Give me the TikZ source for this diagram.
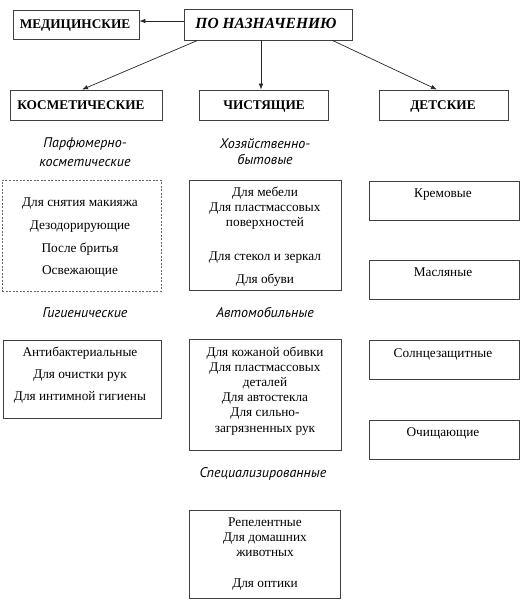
\documentclass[tikz,border=0pt]{standalone}
\usepackage{fontspec}
\setmainfont{Liberation Serif}
\newfontfamily\labfont{PT Sans}
\usetikzlibrary{arrows.meta}
\begin{document}
\begin{tikzpicture}[x=1pt,y=-1pt,
  box/.style={draw=black!75, line width=0.8pt, inner sep=0pt},
  dbox/.style={box, draw=black!60, dash pattern=on 2pt off 1.5pt},
  txt/.style={inner sep=0pt, yshift=-2pt, font=\fontsize{13.3}{15}\selectfont, text height=1.5ex, text depth=0.3ex},
  hdr/.style={inner sep=0pt, yshift=-2pt, font=\fontsize{13.3}{15}\selectfont\bfseries, text height=1.6ex, text depth=0.2ex},
  lab/.style={inner sep=0pt, yshift=-2pt, font=\fontsize{14}{16}\labfont\itshape, text height=1.5ex, text depth=0.3ex},
  arr/.style={draw=black!85, line width=0.7pt, -{Latex[length=6pt,width=4.5pt]}}]
\useasboundingbox[fill=white] (0,0) rectangle (520,600);

% boxes
\node[box, minimum width=126pt, minimum height=29pt] (med) at (76,24.5) {};
\node[box, minimum width=168pt, minimum height=31pt] (top) at (268,24.5) {};
\node[box, minimum width=152pt, minimum height=30pt] (kos) at (86,105) {};
\node[box, minimum width=129pt, minimum height=30pt] (chis) at (263.5,105) {};
\node[box, minimum width=129pt, minimum height=30pt] (det) at (444,105) {};
\node[dbox, minimum width=159pt, minimum height=111pt] (parfbox) at (81.5,235.5) {};
\node[box, minimum width=158pt, minimum height=78pt] (gigbox) at (82,379) {};
\node[box, minimum width=152pt, minimum height=110pt] (hozbox) at (265,235) {};
\node[box, minimum width=152pt, minimum height=111pt] (autobox) at (265,394.5) {};
\node[box, minimum width=151pt, minimum height=88pt] (specbox) at (264.5,554) {};
\node[box, minimum width=150pt, minimum height=39pt] (krem) at (444,200.5) {};
\node[box, minimum width=150pt, minimum height=39pt] (masl) at (444,279.5) {};
\node[box, minimum width=150pt, minimum height=39pt] (soln) at (444,359.5) {};
\node[box, minimum width=150pt, minimum height=39pt] (och) at (444,439.5) {};

% headers
\node[hdr] (tmed) at (75,23.5) {МЕДИЦИНСКИЕ};
\node[hdr, font=\fontsize{15.5}{17}\selectfont\bfseries\itshape] (ttop) at (266,23) {ПО НАЗНАЧЕНИЮ};
\node[hdr] (tkos) at (81,104) {КОСМЕТИЧЕСКИЕ};
\node[hdr] (tchis) at (264,104) {ЧИСТЯЩИЕ};
\node[hdr] (tdet) at (443,104) {ДЕТСКИЕ};

% italic group labels
\node[lab] (l1) at (85,143) {Парфюмерно-};
\node[lab] (l2) at (85,162) {косметические};
\node[lab] (l3) at (85,313) {Гигиенические};
\node[lab] (l4) at (265,144) {Хозяйственно-};
\node[lab] (l5) at (265,160) {бытовые};
\node[lab] (l6) at (265,313) {Автомобильные};
\node[lab] (l7) at (263,473) {Специализированные};

% left column
\node[txt] (p1) at (80,202) {Для снятия макияжа};
\node[txt] (p2) at (80,225) {Дезодорирующие};
\node[txt] (p3) at (80,248) {После бритья};
\node[txt] (p4) at (80,270) {Освежающие};
\node[txt] (g1) at (80,352) {Антибактериальные};
\node[txt] (g2) at (80,374) {Для очистки рук};
\node[txt] (g3) at (80,396) {Для интимной гигиены};

% middle column
\node[txt] (h1) at (265,192) {Для мебели};
\node[txt] (h2) at (265,207) {Для пластмассовых};
\node[txt] (h3) at (265,222) {поверхностей};
\node[txt] (h4) at (265,256) {Для стекол и зеркал};
\node[txt] (h5) at (265,279) {Для обуви};
\node[txt] (a1) at (265,352) {Для кожаной обивки};
\node[txt] (a2) at (265,367) {Для пластмассовых};
\node[txt] (a3) at (265,382) {деталей};
\node[txt] (a4) at (265,397) {Для автостекла};
\node[txt] (a5) at (265,412) {Для сильно-};
\node[txt] (a6) at (265,428) {загрязненных рук};
\node[txt] (s1) at (265,522) {Репелентные};
\node[txt] (s2) at (265,537) {Для домашних};
\node[txt] (s3) at (265,552) {животных};
\node[txt] (s4) at (265,583) {Для оптики};

% right column
\node[txt] (d1) at (443,193) {Кремовые};
\node[txt] (d2) at (443,272) {Масляные};
\node[txt] (d3) at (443,353) {Солнцезащитные};
\node[txt] (d4) at (443,432) {Очищающие};

% arrows
\draw[arr] ([yshift=3.5pt]top.west) -- ([yshift=3.5pt]top.west -| med.east);
\draw[arr] ([xshift=14pt]top.south west) -- ([xshift=-4pt]kos.north);
\draw[arr] ([xshift=-7pt]top.south) -- ([xshift=-7pt]top.south |- chis.north);
\draw[arr] ([xshift=-20pt]top.south east) -- ([xshift=-7pt]det.north);
\end{tikzpicture}
\end{document}
